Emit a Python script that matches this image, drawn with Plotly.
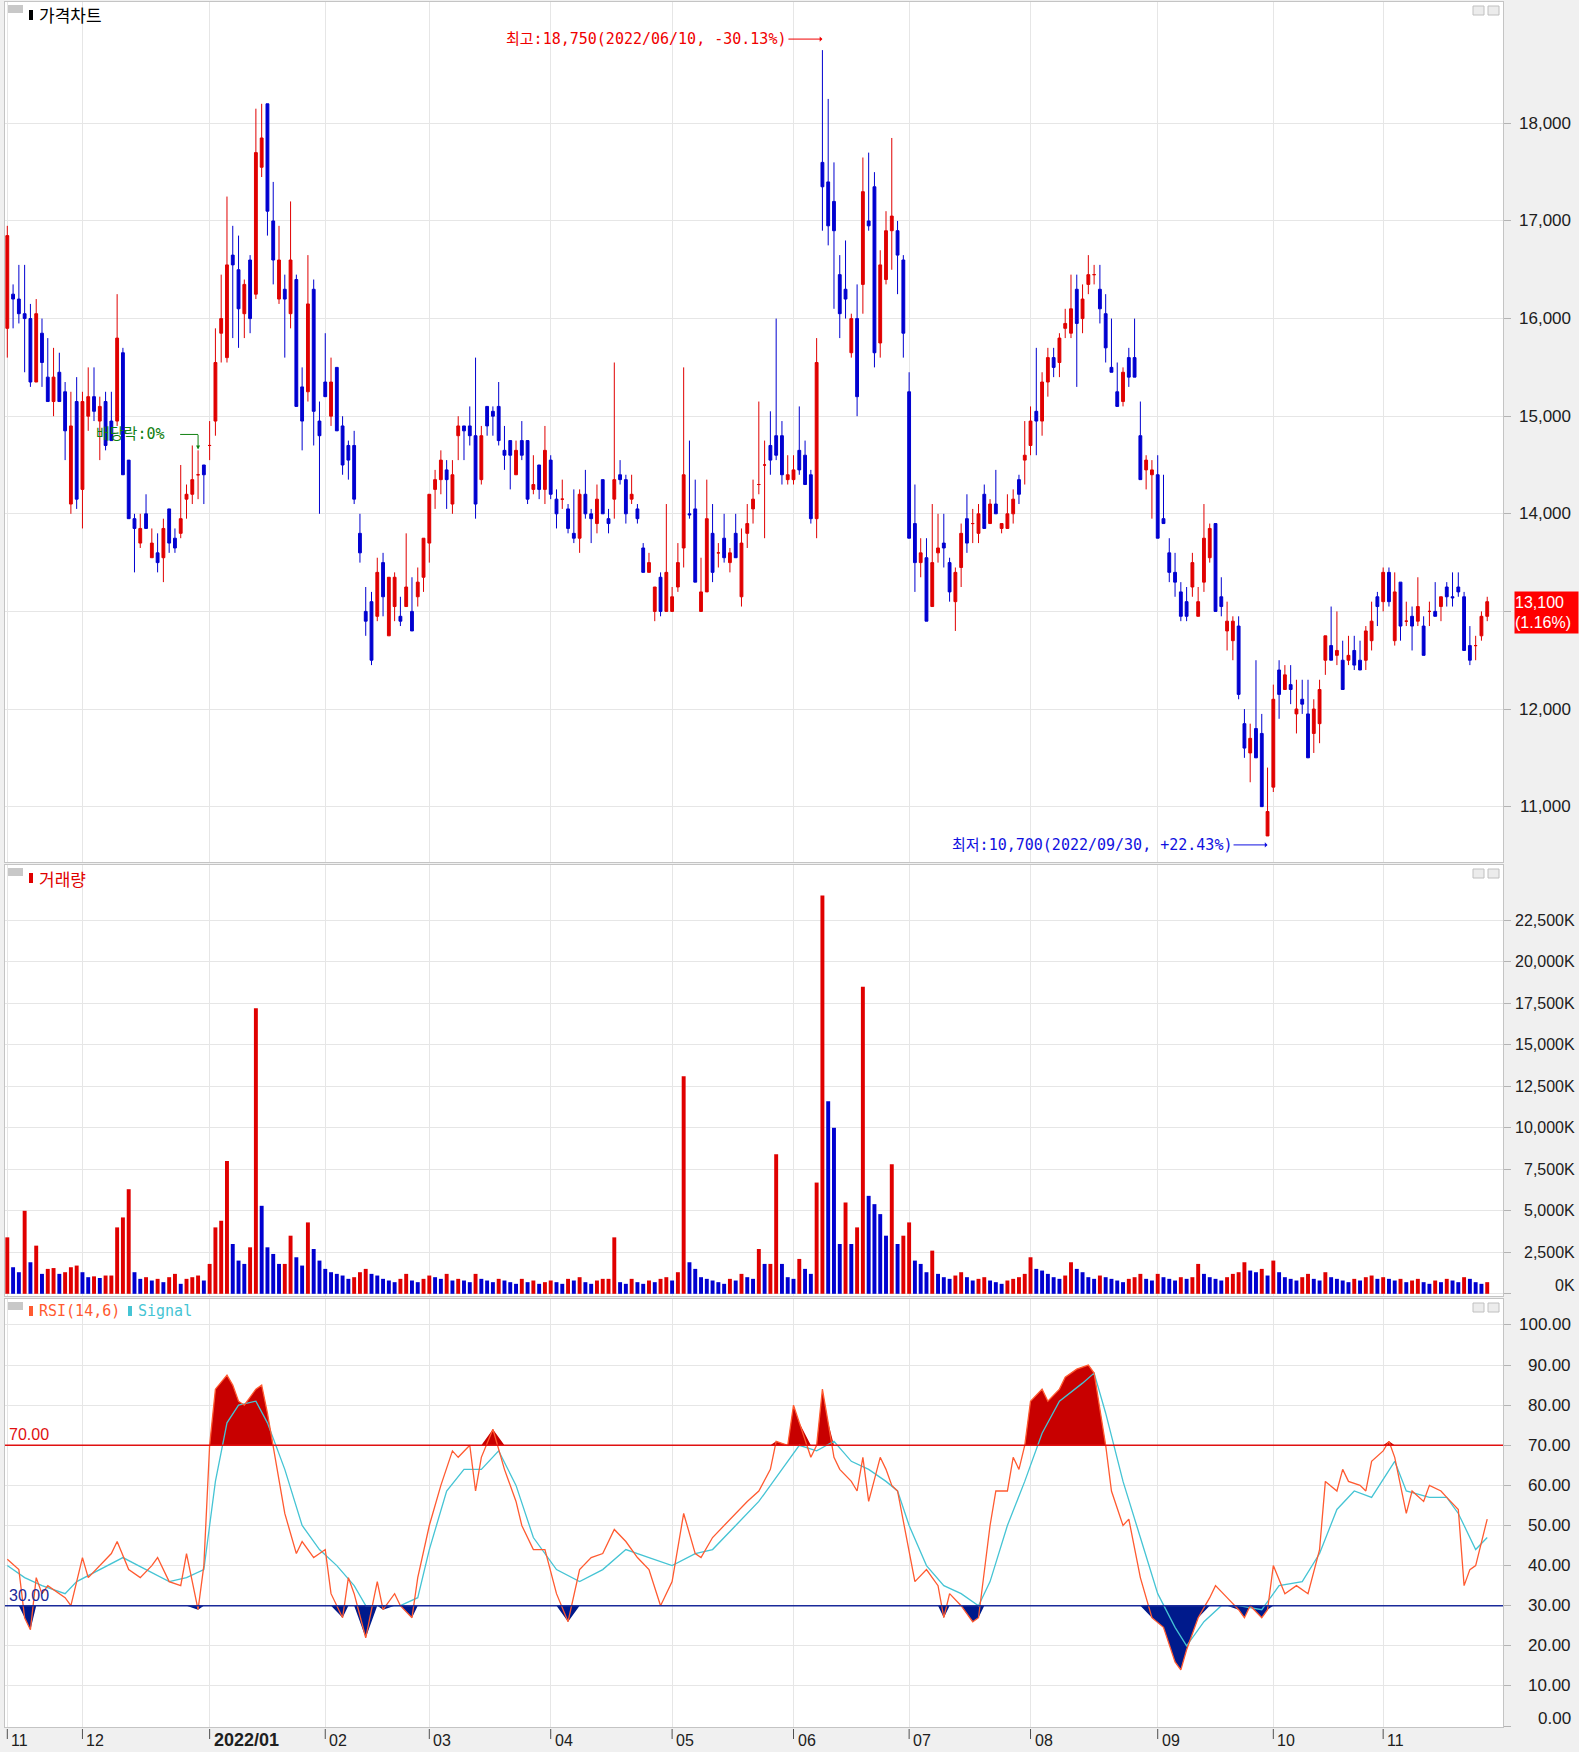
import plotly.graph_objects as go

# ---------------- DATA ----------------
opens = [
    15900,16250,16200,16050,16000,15350,15850,15400,15150,15450,15250,14100,15150,
    14250,15000,15200,14950,15150,14950,14950,15650,14550,13950,13700,14000,13550,13600,13550,14050,13750,13800,14150,14200,14400,14500,
    14700,14950,15850,15600,16650,16500,16050,16600,16250,17550,18200,17000,16200,16300,16050,16400,15300,15250,16300,14950,
    15350,15000,15500,14900,14700,14700,13800,13000,13100,12950,13500,12750,13050,12950,13050,13000,13150,13350,
    13700,14250,14350,14450,14100,14800,14900,14900,14800,14350,15100,15050,15100,14650,14750,14400,14750,14750,14250,14500,14250,
    14550,14150,14150,14050,13800,13750,14200,14000,13900,14350,13950,14150,14400,14350,14150,14050,13650,13400,13000,13350,13000,
    13000,13250,13650,14000,14050,13000,13200,13800,13600,13750,13500,13800,13150,13800,14050,14300,14500,14700,14800,14800,14350,
    14350,14650,14600,14400,13950,17600,17400,17200,16450,16300,15650,16000,16350,17000,17350,15750,16400,16900,16900,16600,
    15250,13900,13500,13550,13050,13600,13700,13500,13100,13450,13950,13900,13800,14200,13900,14100,13850,13850,14000,14350,14550,
    14700,15050,14950,15350,15600,15550,15900,15850,16300,16000,16350,16450,16300,16050,15500,15250,15150,15600,15600,14800,14450,14400,
    14400,13950,13600,13400,13200,13100,13250,12950,13300,13550,13900,13150,12800,12700,12850,11850,11550,11800,11750,10700,
    11200,12400,12200,12250,11950,12100,11950,11750,11850,12500,12650,12550,12500,12500,12600,12500,12500,12700,13150,
    13100,13400,12700,13300,12900,12950,12900,12850,13000,13000,13050,13250,13150,13250,13150,12650,12650,12750,12950,
]
highs = [
    16950,16350,16550,16550,16150,16200,16000,15800,15700,15650,15350,15250,15400,
    15250,15500,15500,15200,15250,15250,16250,15700,14550,14000,14000,14200,13850,13800,13950,14050,13850,14500,14300,14700,14650,14500,
    14950,15900,16450,17250,16950,16850,16400,16650,18150,18200,18200,17400,16950,16450,17200,16450,15500,16650,16400,15150,
    15850,15600,15500,15000,14750,14850,14000,13250,13200,13550,13600,13350,13400,13150,13800,13350,13450,13750,
    14200,14450,14650,14550,14550,15000,14900,15100,15600,14900,15100,15100,15350,14900,14750,14750,14950,14750,14600,14500,14900,
    14600,14250,14350,14100,14250,14250,14450,14050,14300,14350,14050,15550,14550,14400,14400,14100,13700,13600,13250,13400,14100,
    13250,13700,15500,14750,14350,13550,14350,14100,13700,14000,13650,14000,13850,14100,14350,15150,14750,15050,16000,14950,14600,
    14600,15100,14750,14450,15800,18750,18250,17600,16650,16800,16050,16350,17650,17700,17500,16700,17100,17850,17000,16650,
    15450,14300,13750,13750,14100,14000,14000,13550,13450,13900,14200,14050,14100,14300,14150,14450,13900,14200,14250,14400,14950,
    15100,15700,15450,15700,15700,15850,16100,16450,16450,16350,16650,16550,16550,16250,16000,15550,15500,15700,16000,15150,14600,14550,
    14600,14400,13750,13600,13300,13250,13600,13250,14100,13900,13900,13350,13100,12950,12950,12000,11850,12500,11950,11400,
    12250,12500,12450,12450,12300,12300,12300,12100,12300,12750,13050,13000,12700,12750,12750,12700,12850,13100,13200,
    13450,13450,13400,13300,13100,13050,13350,12950,13100,13300,13150,13300,13400,13400,13200,12850,12750,13000,13150,
]
lows = [
    15600,15900,15950,15450,15300,15350,15300,15150,15000,15150,14550,14000,14050,
    13850,14850,14950,14550,14650,14750,14900,14400,13950,13400,13650,13850,13550,13400,13300,13600,13600,13750,13950,14100,14150,14100,
    14550,14800,15550,15550,15800,15700,15800,15850,16200,17450,16850,16350,16150,15600,15900,15100,14650,15150,14700,14000,
    15200,14900,14850,14400,14350,14100,13500,12750,12450,12900,12950,12750,12900,12850,13050,12800,13050,13200,
    13500,14050,14200,14050,14000,14550,14550,14700,13950,14300,14800,14800,14700,14450,14250,14400,14550,14100,14200,14150,14100,
    14150,13850,14050,13800,13700,13600,13950,13700,13800,14000,13800,13950,14300,13900,14100,13900,13400,13400,12900,12950,13000,
    13000,13200,13450,13950,13300,13000,13200,13300,13450,13500,13400,13550,13050,13650,13900,14200,13750,14400,14550,14300,14300,
    14300,14400,14300,13900,13750,16900,16750,16100,15800,16000,15600,15000,16050,16900,15500,15600,16350,16500,16250,15600,
    13750,13200,13350,12900,13050,13500,13450,13100,12800,13250,13600,13700,13700,13850,13900,14000,13800,13850,13900,14100,14300,
    14600,14600,14800,15200,15400,15400,15800,15800,15300,15850,16250,16350,15950,15550,15450,15100,15100,15300,15400,14350,14250,13950,
    13750,13900,13300,13150,12900,12900,13150,12950,13200,13500,13000,12950,12600,12500,12100,11500,11250,11500,11000,10700,
    11150,11900,12200,12050,11750,11950,11500,11550,11650,12350,12500,12450,12200,12450,12400,12400,12400,12600,12850,
    13000,13050,12650,12700,12850,12600,12850,12550,12850,12950,12900,13050,13050,13150,12600,12450,12500,12700,12900,
]
closes = [
    16850,16200,16050,16000,15350,16050,15550,15150,15400,15150,14850,14900,14150,
    15150,15200,15050,15100,14700,14750,15800,14400,13950,13850,13850,13850,13700,13500,13850,13700,13650,13950,14200,14350,14400,14400,
    14700,15550,16000,16550,16550,16100,16350,16000,17700,17850,17100,16600,16600,16200,16600,15100,14950,16150,15050,14800,
    15200,15350,14850,14500,14550,14150,13600,12900,12500,13400,13150,13350,13350,12900,13250,12800,13300,13750,
    14200,14350,14550,14350,14400,14900,14850,14800,14100,14800,14900,15000,14750,14600,14600,14650,14600,14150,14300,14250,14650,
    14200,14000,14150,13850,13750,14200,14000,13950,14150,14000,13900,14350,14350,14000,14200,13950,13400,13500,13250,13000,13400,
    13150,13500,14400,13990,13300,13200,13950,13400,13600,13550,13600,13550,13700,13900,14150,14300,14500,14550,14600,14400,14400,
    14450,14450,14300,13950,15550,17350,16950,16900,16050,16200,16000,15200,17300,16950,15650,16550,16900,17050,16650,15850,
    13750,13500,13600,12900,13500,13650,13650,13200,13400,13800,13700,13900,14000,13850,14100,14000,13900,14000,14150,14200,14600,
    14950,14950,15350,15600,15500,15800,15950,16100,15950,16200,16450,16450,16100,15700,15450,15100,15450,15400,15400,14350,14550,14450,
    13750,13900,13400,13300,12950,12950,13500,13100,13750,13850,13000,13050,12900,12900,12150,11600,11700,11500,11000,10950,
    12100,12150,12350,12200,12000,12050,11500,12000,12200,12750,12500,12600,12200,12550,12450,12400,12800,12900,13050,
    13400,13100,13200,12850,12900,12850,13050,12550,13000,12950,13150,13150,13140,13200,12600,12500,12650,12950,13100,
]
volumes_k = [
    3400,1600,1300,5000,1900,2900,1200,1500,1550,1200,1300,1600,1700,
    1300,1000,1050,950,1100,1100,4000,4600,6300,1300,900,1000,800,900,700,1000,1200,600,900,1000,1100,800,
    1800,4000,4400,8000,3000,2000,1800,2800,17200,5300,2800,2400,1800,1800,3500,2200,1700,4300,2700,2000,
    1500,1300,1200,1100,900,1000,1300,1500,1200,1100,900,800,700,900,1200,800,700,900,
    1100,1000,900,1200,800,900,800,700,1200,900,800,700,900,800,700,600,900,700,800,600,700,
    800,700,600,900,800,1000,700,600,800,900,900,3400,700,600,900,700,600,800,700,900,1000,
    800,1300,13100,1900,1500,1000,900,800,700,600,900,800,1200,1000,900,2700,1800,1800,8400,1800,1000,
    900,2100,1500,1200,6700,24000,11600,10000,3000,5500,3000,4000,18500,5900,5400,4800,3500,7800,3000,3500,
    4300,2000,1800,1300,2600,1200,1000,900,1100,1300,1000,800,900,1000,800,700,600,800,900,1000,1200,
    2200,1500,1400,1200,1000,900,1100,1900,1500,1300,1000,900,1100,1000,900,800,700,900,1000,1200,900,800,
    1200,1000,900,800,1000,900,1000,1800,1200,1000,900,800,1000,1200,1300,1900,1400,1300,1500,1100,
    2000,1300,1000,900,800,1000,1200,900,800,1300,1000,900,800,700,900,800,1000,1100,900,
    1000,900,800,900,700,800,900,700,600,800,700,900,800,700,1000,900,700,600,700,
]
month_idx = [0, 13, 35, 55, 73, 94, 115, 136, 156, 177, 199, 219, 238]
month_lbl = ["11", "12", "2022/01", "02", "03", "04", "05", "06", "07", "08", "09", "10", "11"]

rsi_idx = [0,2,3,4,5,6,7,9,10,11,13,14,16,18,19,21,23,25,26,28,30,31,33,34,35,36,38,39,40,41,43,44,45,46,47,48,50,51,53,55,
           56,58,59,60,62,64,65,67,68,70,71,73,75,77,78,80,81,82,84,86,88,89,91,93,95,97,99,101,103,105,107,109,111,113,115,
           117,119,120,122,124,126,128,130,132,133,135,136,137,139,140,141,142,143,144,146,147,148,149,151,152,153,154,156,157,
           159,161,162,163,165,167,168,169,170,171,173,174,175,176,177,179,180,182,183,185,187,188,190,191,193,194,196,198,200,
           202,203,204,205,206,208,209,211,213,214,215,217,218,219,221,223,225,227,228,230,231,232,234,235,236,238,239,240,242,
           243,245,246,248,249,251,252,253,254,256]
rsi_val = [41.6,39,27,24,37,33,35,33,32,30,42,37,40,43,46,39,37,40,42,36,35,43,29,40,70,84,87.5,85,81,80,84,85,78,70,61,53,43,46,42,44,
           33,27,37,33,22,36,29,33,30,27,37,50,60,68.6,67,70,58.6,67,74,64,56,50,44,44,33,26,39,42,43,49,46,42,39,30,36,
           53,43,42,47,50,53,56,58.6,64,71,70,80,75.6,67,70,84,75.6,67,64,61,58.6,67,56,67,64,60,58.6,44,36,
           39,35,27,33,30,26,27,39,50,58.6,58.6,67,64,70,81,84,81,84,87,89,90,88,70,58.6,50,51.6,37,27,24.6,
           16,14,19,23,27,32,35,32,29,27,30,27,29,40,33,35,33,44,61,58.6,64,61,60,58.6,66,68.6,71,67,53,
           58.6,56,60,58.6,57,54,35,39,40,51.6]
sig_idx = [0,3,6,10,12,16,20,24,28,31,34,36,38,40,43,45,48,51,54,57,60,62,65,68,71,73,76,79,82,85,88,91,95,99,103,107,111,115,
           119,122,126,130,134,137,140,143,146,149,152,154,156,159,162,165,168,170,173,176,179,182,186,188,190,193,196,199,202,
           204,207,210,213,217,220,224,227,230,233,236,240,242,246,249,251,254,256]
sig_val = [40,37,35,33,36,39,42,39,36,37,39,61,75.6,80,81,75.6,64,50,44,40,35,30,30,30,32,44,58.6,64,64,68.6,60,47,39,36,39,44,42,40,
           43,44,50,56,64,70,68.6,71,66,64,61,58.6,50,40,35,33,30,36,50,61,73,81,85.5,88,78,61,47,33,24.6,
           20,26,30,30,29,35,36,43,54,58.6,57,66,58.6,57,57,53,44,47]

price_ticks = [11000, 12000, 13000, 14000, 15000, 16000, 17000, 18000]
price_lbls = [11000, 12000, 14000, 15000, 16000, 17000, 18000]
vol_ticks = [0, 2500, 5000, 7500, 10000, 12500, 15000, 17500, 20000, 22500]
rsi_ticks = [0, 10, 20, 30, 40, 50, 60, 70, 80, 90, 100]

# ---------------- STYLE / GEOMETRY ----------------
FW, FH = 1579, 1752
ML, MR, MT, MB = 5, 76, 2, 25
PW = FW - ML - MR
PH = FH - MT - MB
def xp(px): return (px - ML) / PW
def yp(py): return (FH - MB - py) / PH

RED = "#e00000"
BLUE = "#0000d0"
GRID = "#e6e6e6"
BORDER = "#c4c4c4"
AX = "Liberation Sans, Arial, sans-serif"
MONO = "DejaVu Sans Mono, Liberation Mono, monospace"
KR = "Noto Sans CJK KR, sans-serif"
ANNF = "DejaVu Sans Mono, Noto Sans CJK KR, monospace"

n = len(closes)
assert len(opens) == n and len(highs) == n and len(lows) == n and len(volumes_k) == n
xs = list(range(n))

fig = go.Figure()

# candles: red = close >= open, blue = close < open
for col, cond in ((RED, lambda i: closes[i] >= opens[i]), (BLUE, lambda i: closes[i] < opens[i])):
    ids = [i for i in xs if cond(i)]
    fig.add_trace(go.Candlestick(
        x=ids, open=[opens[i] for i in ids], high=[highs[i] for i in ids],
        low=[lows[i] for i in ids], close=[closes[i] for i in ids],
        increasing=dict(line=dict(color=col, width=1), fillcolor=col),
        decreasing=dict(line=dict(color=col, width=1), fillcolor=col),
        whiskerwidth=0, xaxis="x", yaxis="y", hoverinfo="skip", showlegend=False))

# volume: red if volume rose vs previous day, blue otherwise
vcols = [RED] + [RED if volumes_k[i] >= volumes_k[i - 1] else BLUE for i in range(1, n)]
fig.add_trace(go.Bar(x=xs, y=volumes_k, marker=dict(color=vcols, line=dict(width=0)), width=0.68,
                     xaxis="x2", yaxis="y2", hoverinfo="skip", showlegend=False))

# RSI fills
up_clip = [max(v, 70) for v in rsi_val]
dn_clip = [min(v, 30) for v in rsi_val]
fig.add_trace(go.Scatter(x=rsi_idx, y=[70] * len(rsi_idx), mode="lines", line=dict(width=0),
                         xaxis="x3", yaxis="y3", hoverinfo="skip", showlegend=False))
fig.add_trace(go.Scatter(x=rsi_idx, y=up_clip, mode="lines", line=dict(width=0), fill="tonexty",
                         fillcolor="#c80000", xaxis="x3", yaxis="y3", hoverinfo="skip", showlegend=False))
fig.add_trace(go.Scatter(x=rsi_idx, y=[30] * len(rsi_idx), mode="lines", line=dict(width=0),
                         xaxis="x3", yaxis="y3", hoverinfo="skip", showlegend=False))
fig.add_trace(go.Scatter(x=rsi_idx, y=dn_clip, mode="lines", line=dict(width=0), fill="tonexty",
                         fillcolor="#001a8c", xaxis="x3", yaxis="y3", hoverinfo="skip", showlegend=False))
fig.add_trace(go.Scatter(x=sig_idx, y=sig_val, mode="lines", line=dict(color="#45c4d4", width=1.3),
                         xaxis="x3", yaxis="y3", hoverinfo="skip", showlegend=False))
fig.add_trace(go.Scatter(x=rsi_idx, y=rsi_val, mode="lines", line=dict(color="#ff5a30", width=1.3),
                         xaxis="x3", yaxis="y3", hoverinfo="skip", showlegend=False))

xr = [-0.398, 258.73]
xcommon = dict(range=xr, tickvals=month_idx, showgrid=True, gridcolor=GRID, gridwidth=1,
               showticklabels=False, zeroline=False, showline=True, mirror=True, linecolor=BORDER,
               ticks="", fixedrange=True)
ycommon = dict(side="right", showgrid=True, gridcolor=GRID, gridwidth=1, showticklabels=False,
               ticks="outside", ticklen=7, tickcolor="#b4b4b4", zeroline=False, showline=True,
               mirror=True, linecolor=BORDER, fixedrange=True)

fig.update_layout(
    width=FW, height=FH, margin=dict(l=ML, r=MR, t=MT, b=MB),
    paper_bgcolor="#f0f0f0", plot_bgcolor="white", showlegend=False,
    xaxis=dict(**xcommon, anchor="y", rangeslider=dict(visible=False)),
    xaxis2=dict(**xcommon, anchor="y2", matches="x"),
    xaxis3=dict(**xcommon, anchor="y3", matches="x"),
    yaxis=dict(**ycommon, domain=[yp(862), yp(2)], range=[10433, 19243], tickvals=price_ticks, anchor="x"),
    yaxis2=dict(**ycommon, domain=[yp(1296), yp(865)], range=[-133, 25831], tickvals=vol_ticks, anchor="x2"),
    yaxis3=dict(**ycommon, domain=[0, yp(1299)], range=[-0.25, 106.48], tickvals=rsi_ticks, anchor="x3"),
    boxmode="overlay",
)

ann = []
shapes = []
TXT = "#202020"
# right-axis labels
for v in price_lbls:
    ann.append(dict(x=xp(1573), xref="paper", y=v, yref="y", text=f"{v:,}", xanchor="right",
                    yanchor="middle", showarrow=False, font=dict(family=AX, size=17, color=TXT)))
for v in vol_ticks:
    ann.append(dict(x=xp(1577), xref="paper", y=v, yref="y2", text=f"{v:,}K", xanchor="right",
                    yanchor="middle", yshift=8 if v == 0 else 0, showarrow=False,
                    font=dict(family=AX, size=16, color=TXT)))
for v in rsi_ticks:
    ann.append(dict(x=xp(1573), xref="paper", y=v, yref="y3", text=f"{v:.2f}", xanchor="right",
                    yanchor="middle", yshift=8 if v == 0 else 0, showarrow=False,
                    font=dict(family=AX, size=17, color=TXT)))
# current price box
ann.append(dict(x=xp(1514), xref="paper", y=yp(612), yref="paper", text="13,100<br>(1.16%)",
                xanchor="left", yanchor="middle", align="left", showarrow=False, bgcolor="#ff0000",
                width=63, height=41, borderpad=0, font=dict(family=AX, size=16, color="white")))
# bottom month labels + ticks
for i, lbl in zip(month_idx, month_lbl):
    bold = "/" in lbl
    txt = f"<b>{lbl}</b>" if bold else lbl
    ann.append(dict(x=i, xref="x3", y=yp(1740), yref="paper", text=txt, xanchor="left", xshift=2,
                    yanchor="middle", showarrow=False,
                    font=dict(family=AX, size=18 if bold else 16, color=TXT)))
    shapes.append(dict(type="line", xref="x3", x0=i, x1=i, yref="paper", y0=yp(1729), y1=yp(1739),
                       line=dict(color="#505050", width=1)))

# panel titles
def tag(ypx, color, text, x=37, font=KR, size=17):
    ann.append(dict(x=xp(x), xref="paper", y=yp(ypx), yref="paper", text=text, xanchor="left",
                    yanchor="middle", showarrow=False, font=dict(family=font, size=size, color=color)))
def mark(x0, ypx, color):
    shapes.append(dict(type="rect", xref="paper", yref="paper", x0=xp(x0), x1=xp(x0 + 4),
                       y0=yp(ypx + 5), y1=yp(ypx - 5), fillcolor=color, line=dict(width=0)))

for top in (2, 865, 1299):
    shapes.append(dict(type="rect", xref="paper", yref="paper", x0=xp(8), x1=xp(23), y0=yp(top + 11),
                       y1=yp(top + 3), fillcolor="#c8c8c8", line=dict(width=0)))
    for bx in (1473, 1488):
        shapes.append(dict(type="rect", xref="paper", yref="paper", x0=xp(bx), x1=xp(bx + 11),
                           y0=yp(top + 13), y1=yp(top + 4), fillcolor="#ececec",
                           line=dict(color="#c0c0c0", width=1)))

mark(29, 15, "#000000"); tag(15, "#000000", "가격차트")
mark(29, 878, RED); tag(878, RED, "거래량")
mark(29, 1311, "#ff5a30"); tag(1311, "#ff5a30", "RSI(14,6)", font=MONO, size=15)
mark(128, 1311, "#45c4d4"); tag(1311, "#45c4d4", "Signal", x=136, font=MONO, size=15)

# RSI reference lines and labels
shapes.append(dict(type="line", xref="x3 domain", x0=0, x1=1, yref="y3", y0=70, y1=70,
                   line=dict(color="#e01010", width=1.5), layer="above"))
shapes.append(dict(type="line", xref="x3 domain", x0=0, x1=1, yref="y3", y0=30, y1=30,
                   line=dict(color="#1a2a9a", width=1.5), layer="above"))
ann.append(dict(x=xp(7), xref="paper", y=70, yref="y3", text="70.00", xanchor="left", yanchor="bottom",
                showarrow=False, font=dict(family=AX, size=16, color="#e01010")))
ann.append(dict(x=xp(7), xref="paper", y=30, yref="y3", text="30.00", xanchor="left", yanchor="bottom",
                showarrow=False, font=dict(family=AX, size=16, color="#1a2a9a")))

# high / low annotations with arrows pointing right to the extreme candle
ann.append(dict(x=141, xref="x", y=18863, yref="y", ax=-34, ay=0, axref="pixel", ayref="pixel",
                text="최고:18,750(2022/06/10, -30.13%)", xanchor="right", yanchor="middle",
                showarrow=True, arrowhead=1, arrowsize=0.9, arrowwidth=1, arrowcolor="#f00000",
                standoff=0, startstandoff=0,
                font=dict(family=ANNF, size=15, color="#f00000")))
ann.append(dict(x=218, xref="x", y=10608, yref="y", ax=-34, ay=0, axref="pixel", ayref="pixel",
                text="최저:10,700(2022/09/30, +22.43%)", xanchor="right", yanchor="middle",
                showarrow=True, arrowhead=1, arrowsize=0.9, arrowwidth=1, arrowcolor="#1010e0",
                standoff=0, startstandoff=0,
                font=dict(family=ANNF, size=15, color="#1010e0")))
# ex-dividend marker
ann.append(dict(x=15.0, xref="x", y=14813, yref="y", text="배당락:0%", xanchor="left", yanchor="middle",
                showarrow=False, font=dict(family=ANNF, size=15, color="#108010")))
shapes.append(dict(type="line", xref="x", yref="y", x0=29.9, x1=33, y0=14813, y1=14813,
                   line=dict(color="#108010", width=1)))
ann.append(dict(x=33, xref="x", y=14660, yref="y", ax=0, ay=-16, axref="pixel", ayref="pixel",
                text="", showarrow=True, arrowhead=2, arrowsize=0.8, arrowwidth=1, arrowcolor="#108010"))

fig.update_layout(annotations=ann, shapes=shapes)
fig.write_html("out.html", config={"displayModeBar": False},
               post_script="document.body.style.margin='0';document.body.style.padding='0';")
